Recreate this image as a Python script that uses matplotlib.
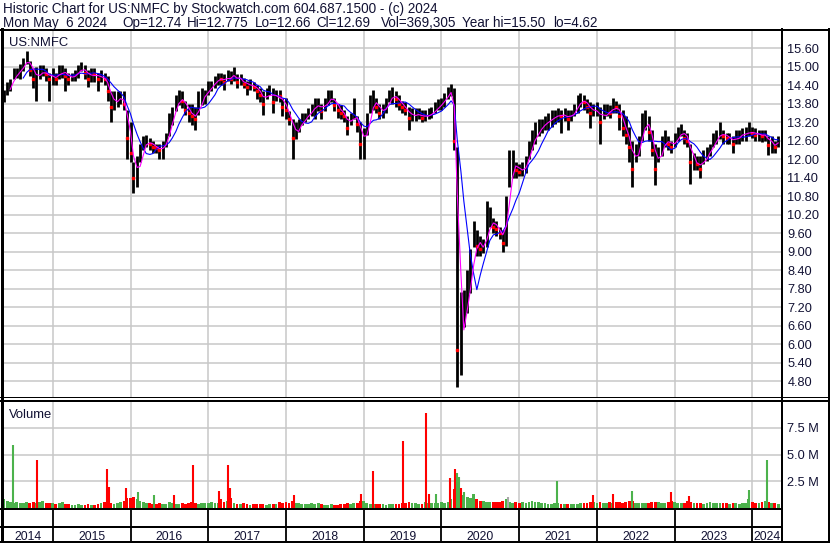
import numpy as np
import pandas as pd
import matplotlib
matplotlib.use('Agg')
import matplotlib.pyplot as plt
import matplotlib.dates as mdates
from matplotlib.lines import Line2D

plt.rcParams['font.family'] = ['Liberation Sans', 'DejaVu Sans']

#%% data at two points per month (May 2014 - May 2024)
dates = pd.date_range('2014-05-15', '2024-05-01', freq='SMS')

price_lo = (
    [13.85, 14.10, 14.20, 14.60, 14.65, 14.60, 14.85, 15.10, 14.70, 14.30, 13.90, 14.60, 14.70, 14.55, 13.90]
    + [14.40, 14.40, 14.60, 14.65, 14.20, 14.40, 14.55, 14.55, 14.65, 14.85, 14.60, 14.35, 14.50, 14.50, 14.20, 14.50, 14.40, 13.90, 13.20, 13.60, 13.70, 13.80, 13.60, 12.00]
    + [11.90, 10.90, 11.10, 11.90, 12.30, 12.40, 12.30, 12.20, 12.20, 12.00, 12.00, 12.40, 12.75, 13.10, 13.55, 13.75, 13.65, 13.45, 13.20, 13.10, 12.95, 13.45, 13.75, 13.80]
    + [14.10, 14.20, 14.30, 14.40, 14.40, 14.25, 14.55, 14.45, 14.55, 14.30, 14.40, 14.30, 14.10, 14.25, 14.20, 13.95, 13.85, 13.45, 13.95, 14.10, 13.50, 13.90, 13.85, 13.40]
    + [13.30, 13.10, 12.00, 12.65, 12.90, 13.10, 13.20, 13.30, 13.40, 13.30, 13.55, 13.30, 13.55, 13.75, 13.85, 13.55, 13.35, 13.30, 13.20, 12.80, 13.10, 13.30, 12.90, 12.00]
    + [12.00, 12.80, 13.50, 13.60, 13.50, 13.30, 13.35, 13.50, 13.85, 13.80, 13.70, 13.60, 13.50, 13.45, 12.95, 13.25, 13.25, 13.30, 13.20, 13.25, 13.30, 13.35, 13.50, 13.60]
    + [13.60, 13.70, 13.95, 14.05, 12.30, 4.62, 5.00, 6.55, 7.00, 7.65, 9.15, 8.85, 8.85, 8.95, 9.15, 9.80, 9.60, 9.50, 9.40, 9.00, 9.20, 11.10, 11.40, 11.40]
    + [11.45, 11.45, 11.55, 12.00, 12.30, 12.50, 12.75, 12.85, 12.95, 12.95, 13.05, 13.15, 13.20, 12.85, 13.25, 12.95, 13.25, 13.40, 13.50, 13.70, 13.60, 13.50, 13.00, 13.40]
    + [13.40, 12.50, 13.30, 13.40, 13.35, 13.50, 13.50, 12.95, 12.75, 12.50, 11.90, 11.10, 11.90, 12.10, 12.60, 12.95, 12.60, 12.10, 11.15, 11.90, 12.10, 12.40, 12.30, 12.20]
    + [12.40, 12.60, 12.75, 12.50, 12.40, 11.20, 11.65, 11.65, 11.40, 11.85, 11.95, 12.10, 12.40, 12.50, 12.65, 12.50, 12.50, 12.50, 12.20, 12.50, 12.50, 12.60, 12.60, 12.75]
    + [12.70, 12.60, 12.60, 12.55, 12.60, 12.15, 12.20, 12.20, 12.40]
)
price_hi = (
    [14.25, 14.50, 14.60, 14.95, 14.95, 15.10, 15.30, 15.50, 15.20, 14.95, 15.00, 15.05, 15.05, 14.95, 14.80]
    + [14.95, 14.80, 15.05, 15.05, 14.95, 14.80, 14.80, 14.90, 15.05, 15.15, 15.05, 14.90, 14.95, 14.95, 14.80, 14.90, 14.80, 14.70, 14.20, 14.20, 14.20, 14.20, 14.20, 13.60]
    + [13.20, 11.90, 12.10, 12.50, 12.75, 12.80, 12.70, 12.60, 12.50, 12.50, 12.60, 12.85, 13.50, 13.70, 14.10, 14.25, 14.20, 13.90, 13.80, 13.80, 13.70, 14.20, 14.30, 14.25]
    + [14.55, 14.55, 14.70, 14.80, 14.80, 14.75, 14.90, 14.85, 15.00, 14.75, 14.75, 14.65, 14.55, 14.60, 14.50, 14.40, 14.30, 14.20, 14.30, 14.40, 14.30, 14.25, 14.25, 14.00]
    + [14.00, 13.55, 13.30, 13.20, 13.30, 13.50, 13.50, 13.65, 13.80, 14.00, 14.00, 13.80, 14.00, 14.25, 14.25, 14.00, 13.80, 13.75, 13.60, 13.40, 13.50, 14.00, 13.40, 13.20]
    + [13.00, 13.50, 14.10, 14.25, 14.00, 13.80, 13.80, 14.00, 14.25, 14.35, 14.20, 14.10, 13.90, 13.85, 13.70, 13.65, 13.65, 13.65, 13.60, 13.60, 13.65, 13.70, 13.85, 13.95]
    + [14.00, 14.15, 14.35, 14.45, 14.30, 12.40, 7.70, 7.75, 8.40, 9.10, 10.00, 9.70, 9.50, 9.40, 10.65, 10.45, 10.10, 10.00, 9.80, 9.70, 10.80, 12.30, 12.30, 11.90]
    + [11.85, 11.90, 12.10, 12.60, 12.95, 13.20, 13.30, 13.30, 13.40, 13.50, 13.60, 13.60, 13.65, 13.60, 13.65, 13.60, 13.60, 13.80, 14.10, 14.15, 14.10, 13.95, 13.85, 13.80]
    + [13.87, 13.70, 13.80, 13.80, 13.75, 14.00, 13.90, 13.80, 13.60, 13.40, 13.05, 12.60, 12.50, 12.75, 13.50, 13.60, 13.40, 12.95, 12.50, 12.40, 12.75, 12.95, 12.75, 12.60]
    + [12.85, 13.05, 13.15, 12.95, 12.85, 12.50, 12.20, 12.10, 12.10, 12.30, 12.40, 12.50, 12.85, 12.95, 13.20, 12.95, 12.85, 12.85, 12.75, 12.95, 12.95, 13.00, 13.05, 13.20]
    + [13.05, 13.00, 12.95, 12.95, 12.95, 12.75, 12.75, 12.60, 12.77]
)
price_cl = (
    [14.05, 14.30, 14.45, 14.80, 14.80, 14.90, 15.15, 15.35, 14.90, 14.60, 14.75, 14.80, 14.85, 14.75, 14.60]
    + [14.75, 14.60, 14.85, 14.90, 14.70, 14.60, 14.70, 14.75, 14.90, 15.00, 14.80, 14.60, 14.80, 14.75, 14.60, 14.70, 14.60, 14.20, 13.70, 13.95, 13.95, 14.00, 13.80, 12.70]
    + [12.20, 11.40, 11.60, 12.30, 12.50, 12.60, 12.50, 12.40, 12.35, 12.30, 12.40, 12.65, 13.20, 13.50, 13.90, 14.00, 13.90, 13.60, 13.50, 13.40, 13.30, 13.90, 14.05, 14.10]
    + [14.35, 14.40, 14.55, 14.65, 14.60, 14.50, 14.75, 14.60, 14.80, 14.50, 14.60, 14.45, 14.35, 14.45, 14.35, 14.20, 14.10, 13.80, 14.15, 14.25, 13.85, 14.10, 14.05, 13.70]
    + [13.60, 13.30, 12.70, 12.90, 13.10, 13.30, 13.35, 13.50, 13.65, 13.75, 13.80, 13.55, 13.80, 14.00, 14.05, 13.75, 13.60, 13.50, 13.40, 13.00, 13.30, 13.60, 13.15, 12.50]
    + [12.60, 13.20, 13.85, 13.95, 13.70, 13.50, 13.55, 13.80, 14.05, 14.10, 13.95, 13.80, 13.70, 13.60, 13.35, 13.45, 13.45, 13.45, 13.35, 13.40, 13.45, 13.50, 13.65, 13.75]
    + [13.85, 14.00, 14.20, 14.30, 12.60, 5.80, 6.60, 7.00, 7.70, 8.50, 9.60, 9.20, 9.10, 9.15, 9.90, 10.10, 9.80, 9.75, 9.60, 9.30, 10.60, 11.80, 11.90, 11.65]
    + [11.60, 11.70, 11.85, 12.40, 12.60, 12.80, 13.00, 13.10, 13.20, 13.25, 13.35, 13.40, 13.45, 13.40, 13.45, 13.30, 13.45, 13.60, 13.85, 13.95, 13.85, 13.70, 13.50, 13.60]
    + [13.60, 13.20, 13.50, 13.55, 13.50, 13.75, 13.70, 13.40, 13.00, 12.80, 12.40, 11.70, 12.20, 12.50, 13.20, 13.30, 12.90, 12.30, 11.70, 12.10, 12.50, 12.70, 12.50, 12.40]
    + [12.60, 12.85, 12.95, 12.70, 12.60, 11.90, 11.90, 11.85, 11.70, 12.10, 12.20, 12.30, 12.60, 12.75, 12.90, 12.75, 12.70, 12.70, 12.50, 12.75, 12.80, 12.80, 12.85, 12.90]
    + [12.85, 12.80, 12.80, 12.75, 12.80, 12.45, 12.50, 12.40, 12.69]
)
# volume in millions, same half-month steps
volume = (
    [0.8, 0.7, 0.6, 0.5, 0.6, 0.5, 0.5, 0.6, 0.5, 0.6, 0.5, 0.6, 0.7, 0.5, 0.5]
    + [0.5, 0.4, 0.5, 0.6, 0.4, 0.4, 0.3, 0.3, 0.4, 0.3, 0.3, 0.4, 0.3, 0.3, 0.4, 0.5, 0.6, 0.8, 0.5, 0.4, 0.5, 0.6, 0.7, 0.9]
    + [0.9, 1.0, 0.8, 0.7, 0.6, 0.5, 0.5, 0.4, 0.4, 0.5, 0.4, 0.4, 0.6, 0.5, 0.4, 0.4, 0.5, 0.4, 0.5, 0.6, 0.5, 0.4, 0.5, 0.5]
    + [0.5, 0.6, 0.5, 0.5, 0.8, 0.6, 0.7, 0.9, 0.5, 0.4, 0.4, 0.5, 0.4, 0.3, 0.4, 0.4, 0.4, 0.4, 0.3, 0.4, 0.4, 0.4, 0.6, 0.5]
    + [0.6, 0.5, 0.7, 0.5, 0.5, 0.4, 0.4, 0.4, 0.5, 0.4, 0.5, 0.4, 0.3, 0.3, 0.4, 0.3, 0.3, 0.4, 0.4, 0.5, 0.4, 0.5, 0.5, 0.7]
    + [0.7, 0.5, 0.4, 0.4, 0.4, 0.4, 0.4, 0.3, 0.4, 0.4, 0.4, 0.4, 0.5, 0.5, 0.6, 0.5, 0.5, 0.4, 0.4, 0.6, 0.5, 0.5, 0.5, 0.5]
    + [0.6, 0.5, 0.6, 0.8, 1.8, 2.2, 1.6, 1.2, 1.0, 0.9, 1.3, 0.8, 0.7, 0.7, 0.6, 0.6, 0.6, 0.6, 0.6, 0.7, 0.8, 0.6, 0.5, 0.6]
    + [0.5, 0.6, 0.5, 0.6, 0.7, 0.6, 0.6, 0.5, 0.5, 0.4, 0.4, 0.5, 0.5, 0.4, 0.4, 0.4, 0.4, 0.4, 0.4, 0.5, 0.5, 0.5, 0.6, 0.6]
    + [0.5, 0.6, 0.5, 0.5, 0.6, 0.5, 0.6, 0.6, 0.5, 0.6, 0.7, 0.7, 0.5, 0.5, 0.5, 0.5, 0.5, 0.6, 0.6, 0.6, 0.5, 0.5, 0.6, 0.7]
    + [0.6, 0.5, 0.5, 0.5, 0.7, 0.6, 0.5, 0.5, 0.5, 0.4, 0.5, 0.6, 0.5, 0.5, 0.5, 0.5, 0.5, 0.4, 0.5, 0.5, 0.4, 0.5, 0.5, 0.8]
    + [0.6, 0.5, 0.5, 0.6, 0.7, 0.6, 0.5, 0.5, 0.4]
)
# single-day volume spikes
spike_dates = ['2014-06-27', '2014-10-20', '2015-09-14', '2015-09-21', '2015-12-10', '2016-02-05',
               '2016-04-20', '2016-07-22', '2016-10-21', '2017-02-20', '2017-04-03', '2017-04-12',
               '2018-02-05', '2018-12-20', '2019-02-14', '2019-07-05', '2019-10-18', '2019-11-01',
               '2019-12-05', '2020-02-12', '2020-03-04', '2020-03-13', '2020-03-24', '2020-04-03',
               '2020-04-17', '2020-11-10', '2021-06-25', '2021-12-15', '2022-03-15', '2022-06-14',
               '2022-12-16', '2023-03-10', '2023-12-15', '2024-03-11']
spike_vols = [5.9, 4.5, 3.65, 2.0, 1.9, 1.5, 1.2, 1.2, 4.0, 1.6, 4.0, 1.9, 1.2, 1.3, 3.5, 6.25, 8.85, 1.35,
              1.3, 2.8, 3.6, 3.3, 2.9, 1.9, 1.5, 1.0, 2.5, 1.2, 1.3, 1.6, 1.45, 1.1, 1.7, 4.5]
spike_dirs = ['up', 'dn', 'dn', 'dn', 'dn', 'up', 'up', 'dn', 'dn', 'dn', 'dn', 'dn', 'dn', 'dn', 'dn', 'dn',
              'dn', 'dn', 'up', 'dn', 'dn', 'up', 'up', 'dn', 'up', 'eq', 'up', 'dn', 'dn', 'up', 'dn', 'dn',
              'up', 'up']

price_ticks = np.arange(4.8, 15.61, 0.6)
vol_ticks = [2.5, 5.0, 7.5]
years = list(range(2014, 2025))

header1 = 'Historic Chart for US:NMFC by Stockwatch.com 604.687.1500 - (c) 2024'
header2 = ['Mon May  6 2024', 'Op=12.74', 'Hi=12.775', 'Lo=12.66', 'Cl=12.69',
           'Vol=369,305', 'Year hi=15.50', 'lo=4.62']
header2_x = [3, 122, 187, 255, 316, 381, 462, 553]

assert len(dates) == len(price_lo) == len(price_hi) == len(price_cl) == len(volume)

#%% figure
W, H = 830, 543
fig = plt.figure(figsize=(W / 100, H / 100), dpi=100)
fig.patch.set_facecolor('white')
txt_c = '#111133'

def box(x0, y0, x1, y1):
    return [x0 / W, 1 - y1 / H, (x1 - x0) / W, (y1 - y0) / H]

ax_p = fig.add_axes(box(3, 31, 781, 397))
ax_v = fig.add_axes(box(3, 401, 781, 508))
ax_y = fig.add_axes(box(3, 508, 781, 542))

xd = mdates.date2num(dates.to_pydatetime())
x0 = mdates.date2num(pd.Timestamp('2014-05-12'))
x1 = mdates.date2num(pd.Timestamp('2024-05-14'))
year_starts = mdates.date2num(pd.to_datetime([f'{y}-01-01' for y in years[1:]]).to_pydatetime())

lo = np.array(price_lo)
hi = np.array(price_hi)
cl = np.array(price_cl)
chg = np.diff(cl, prepend=cl[0])
grid_c = '#c8c8c8'
red = '#ff0000'
green = '#4cb24c'

# price panel
ax_p.vlines(xd, lo, hi, color='black', lw=2.0, zorder=3)
down = chg < 0
ax_p.plot(xd[down], cl[down], ls='none', marker='s', ms=1.5, color=red, mec=red, zorder=4)
ma_fast = pd.Series(cl).rolling(3).mean()
ma_slow = pd.Series(cl).rolling(7).mean()
ax_p.plot(xd, ma_slow, color='#0000ff', lw=0.8, zorder=5)
ax_p.plot(xd, ma_fast, color='#ff00ff', lw=0.8, zorder=6)
ax_p.set_ylim(4.29, 16.16)
ax_p.set_yticks(price_ticks)
ax_p.set_yticklabels([f'{t:.2f}' for t in price_ticks])
ax_p.text(9, H - 46.5, 'US:NMFC', transform=None, fontsize=9.4, color=txt_c)

# volume panel
bar_cols = [green if c >= 0 else red for c in chg]
ax_v.bar(xd, volume, width=13, color=bar_cols, linewidth=0, zorder=3)
sp_x = mdates.date2num(pd.to_datetime(spike_dates).to_pydatetime())
sp_c = [{'up': green, 'dn': red, 'eq': '#a8a8a8'}[d] for d in spike_dirs]
ax_v.vlines(sp_x, 0, spike_vols, colors=sp_c, lw=1.5, zorder=4)
ax_v.set_ylim(0, 10.0)
ax_v.set_yticks(vol_ticks)
ax_v.set_yticklabels([f'{t:.1f} M' for t in vol_ticks])
ax_v.text(9, H - 418, 'Volume', transform=None, fontsize=9.4, color=txt_c)

for ax in (ax_p, ax_v):
    ax.set_xlim(x0, x1)
    ax.set_xticks(year_starts)
    ax.set_xticklabels([])
    ax.grid(True, color=grid_c, lw=1.1, zorder=0)
    ax.set_axisbelow(True)
    ax.yaxis.tick_right()
    ax.tick_params(axis='both', length=0, labelsize=9.2, pad=4.5, labelcolor=txt_c)
    for s in ax.spines.values():
        s.set_visible(False)

# year strip
ax_y.set_xlim(x0, x1)
ax_y.set_ylim(0, 1)
ax_y.axis('off')
for xs in year_starts:
    ax_y.axvline(xs, color='black', lw=1.3)
edges = [x0] + list(year_starts) + [x1]
for y, a, b in zip(years, edges[:-1], edges[1:]):
    ax_y.text((a + b) / 2, 0.07, str(y), ha='center', va='baseline', fontsize=8.8, color=txt_c)

# frame
def hline(y, xa, xb, lw):
    fig.add_artist(Line2D([xa / W, xb / W], [1 - y / H, 1 - y / H], color='black', lw=lw * 0.72))

def vline(x, ya, yb, lw):
    fig.add_artist(Line2D([x / W, x / W], [1 - ya / H, 1 - yb / H], color='black', lw=lw * 0.72))

hline(29.5, 0, 830, 2)
hline(397, 0, 830, 1)
hline(401, 0, 830, 2)
hline(508.5, 0, 781, 2)
hline(526.5, 0, 781, 2)
hline(542, 0, 830, 2)
vline(1.5, 29, 543, 3)
vline(781.5, 29, 543, 2)
vline(828.5, 29, 543, 2)

# header
fig.text(3 / W, 1 - 13.3 / H, header1, fontsize=9.75, va='baseline', color=txt_c)
for s, xp in zip(header2, header2_x):
    fig.text(xp / W, 1 - 26.7 / H, s, fontsize=9.75, va='baseline', color=txt_c)

fig.savefig('out.png', dpi=100, facecolor='white')
